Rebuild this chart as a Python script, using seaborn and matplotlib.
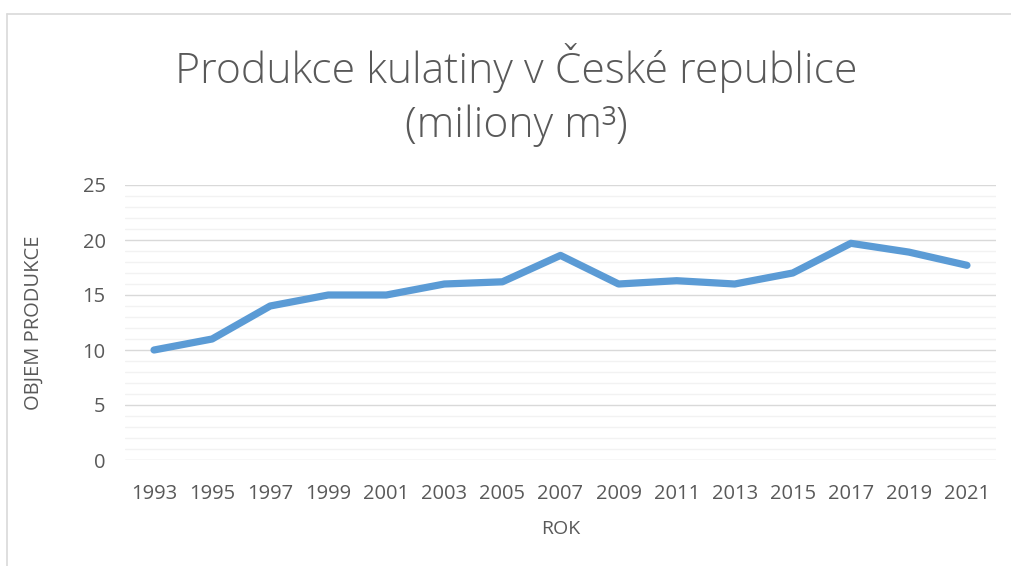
import matplotlib
matplotlib.use("Agg")
import matplotlib.pyplot as plt
from matplotlib.lines import Line2D
from matplotlib.ticker import MultipleLocator
import seaborn as sns
import pandas as pd

# data
roky = ["1993", "1995", "1997", "1999", "2001", "2003", "2005", "2007",
        "2009", "2011", "2013", "2015", "2017", "2019", "2021"]
objem = [10.0, 11.0, 14.0, 15.0, 15.0, 16.0, 16.2, 18.6,
         16.0, 16.3, 16.0, 17.0, 19.7, 18.9, 17.7]

df = pd.DataFrame({"ROK": roky, "OBJEM": objem})

sns.set_theme(style="white")
plt.rcParams["font.family"] = ["Open Sans", "DejaVu Sans"]

text_col = "#595959"
fig = plt.figure(figsize=(10.12, 5.66), dpi=100)
ax = fig.add_axes([125 / 1012, 1 - 460 / 566, 871 / 1012, 275 / 566])

sns.lineplot(data=df, x="ROK", y="OBJEM", ax=ax, color="#5B9BD5",
             linewidth=5.2, sort=False)

ax.set_xlim(-0.5, len(roky) - 0.5)
ax.set_ylim(0, 25)
ax.yaxis.set_major_locator(MultipleLocator(5))
ax.yaxis.set_minor_locator(MultipleLocator(1))
ax.grid(axis="y", which="major", color="#D9D9D9", linewidth=1.0)
ax.grid(axis="y", which="minor", color="#F2F2F2", linewidth=1.0)
ax.grid(axis="x", visible=False)
ax.set_axisbelow(True)
for s in ax.spines.values():
    s.set_visible(False)

ax.tick_params(axis="both", which="both", length=0, labelsize=14.5,
               labelcolor=text_col)
ax.tick_params(axis="x", pad=17)
ax.tick_params(axis="y", pad=14)

ax.set_xlabel("ROK", fontsize=14, color=text_col, labelpad=12)
ax.set_ylabel("OBJEM PRODUKCE", fontsize=14.5, color=text_col, labelpad=28)

fig.text(516 / 1012, 1 - 95 / 566, "Produkce kulatiny v České republice\n(miliony m³)",
         ha="center", va="center", fontsize=30.8, color=text_col,
         fontweight="light", linespacing=1.38)

# chart border (partly outside the picture)
fig.add_artist(Line2D([7 / 1012, 7 / 1012], [0, 1 - 14 / 566],
                      transform=fig.transFigure, color="#D9D9D9", linewidth=1.2))
fig.add_artist(Line2D([7 / 1012, 1], [1 - 14 / 566, 1 - 14 / 566],
                      transform=fig.transFigure, color="#D9D9D9", linewidth=1.2))

fig.savefig("out.png", dpi=100, facecolor="white")
